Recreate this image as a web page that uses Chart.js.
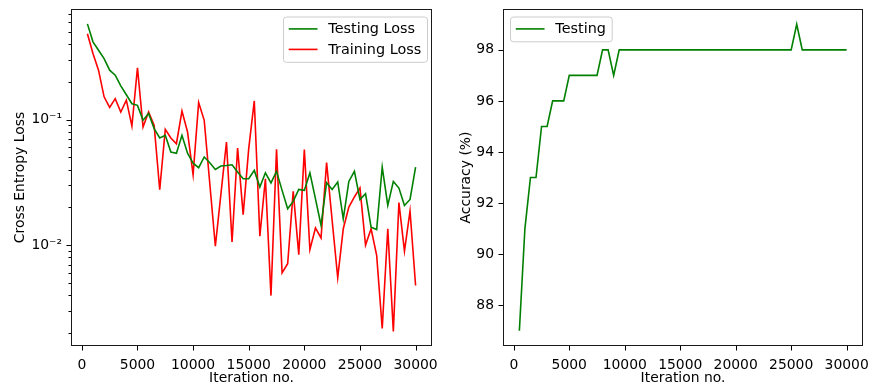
<!DOCTYPE html>
<html>
<head>
<meta charset="utf-8">
<script src="https://cdn.jsdelivr.net/npm/chart.js@4.4.0/dist/chart.umd.min.js"></script>
<style>
  body { margin: 0; background: #fff; }
  #wrap { position: relative; width: 870px; height: 385px; }
  .panel { position: absolute; top: 0; height: 385px; }
  #left { left: 0; width: 440px; }
  #right { left: 440px; width: 430px; }
</style>
</head>
<body>
<div id="wrap">
  <div class="panel" id="left"><canvas id="loss-chart"></canvas></div>
  <div class="panel" id="right"><canvas id="acc-chart"></canvas></div>
</div>
<script>
// Evaluation every 500 iterations
const iterations = [
  500, 1000, 1500, 2000, 2500, 3000, 3500, 4000, 4500, 5000,
  5500, 6000, 6500, 7000, 7500, 8000, 8500, 9000, 9500, 10000,
  10500, 11000, 11500, 12000, 12500, 13000, 13500, 14000, 14500, 15000,
  15500, 16000, 16500, 17000, 17500, 18000, 18500, 19000, 19500, 20000,
  20500, 21000, 21500, 22000, 22500, 23000, 23500, 24000, 24500, 25000,
  25500, 26000, 26500, 27000, 27500, 28000, 28500, 29000, 29500, 30000
];

const testLoss = [
  0.58, 0.417, 0.357, 0.307, 0.248, 0.226, 0.186, 0.158, 0.134, 0.13,
  0.099, 0.112, 0.0848, 0.0715, 0.075, 0.0552, 0.054, 0.075, 0.054, 0.045,
  0.0414, 0.0504, 0.0454, 0.0401, 0.0427, 0.0431, 0.0437, 0.0382, 0.0338, 0.0338,
  0.0394, 0.029, 0.0377, 0.0313, 0.0387, 0.0273, 0.0195, 0.0223, 0.0278, 0.0273,
  0.0377, 0.0234, 0.0144, 0.0314, 0.0278, 0.0319, 0.0162, 0.0322, 0.0387, 0.0231,
  0.0257, 0.0139, 0.0133, 0.0418, 0.0207, 0.0322, 0.0285, 0.0207, 0.0231, 0.0418
];

const trainLoss = [
  0.483, 0.337, 0.248, 0.152, 0.125, 0.147, 0.115, 0.143, 0.089, 0.259,
  0.0874, 0.115, 0.09, 0.0276, 0.0837, 0.0715, 0.0643, 0.117, 0.0798, 0.0364,
  0.137, 0.0988, 0.031, 0.0098, 0.0255, 0.0664, 0.0106, 0.0594, 0.0175, 0.0587,
  0.141, 0.0118, 0.0338, 0.00396, 0.058, 0.006, 0.0071, 0.0268, 0.0084, 0.0577,
  0.0092, 0.0137, 0.0114, 0.0454, 0.0157, 0.0055, 0.0135, 0.0201, 0.0242, 0.0286,
  0.01, 0.0135, 0.0083, 0.00217, 0.0135, 0.00205, 0.0218, 0.00895, 0.0187, 0.00476
];

const testAccuracy = [
  87, 91, 93, 93, 95, 95, 96, 96, 96, 97,
  97, 97, 97, 97, 97, 98, 98, 97, 98, 98,
  98, 98, 98, 98, 98, 98, 98, 98, 98, 98,
  98, 98, 98, 98, 98, 98, 98, 98, 98, 98,
  98, 98, 98, 98, 98, 98, 98, 98, 98, 98,
  99, 98, 98, 98, 98, 98, 98, 98, 98, 98
];

const iterTicks = [0, 5000, 10000, 15000, 20000, 25000, 30000];
const lossTicks = [0.01, 0.1];
const lossTickLabels = ['10\u207B\u00B2', '10\u207B\u00B9'];
const accTicks = [88, 90, 92, 94, 96, 98];

const FONT = 'DejaVu Sans';
const FS = 13.9;
const LEGEND_FS = 14.4;
Chart.defaults.font.family = FONT;
Chart.defaults.font.size = FS;
Chart.defaults.color = '#000';

const toPoints = ys => iterations.map((x, i) => ({ x, y: ys[i] }));

// minor tick positions for the log axis (2..9 in each decade)
function logMinorTicks(min, max) {
  const out = [];
  for (let e = -4; e <= 1; e++) {
    for (let m = 2; m <= 9; m++) {
      const v = m * Math.pow(10, e);
      if (v > min && v < max) out.push(v);
    }
  }
  return out;
}

// scales should not push the plot area around for label overhang
function noOverhang(s) {
  s.paddingTop = 0;
  s.paddingBottom = 0;
  s.paddingLeft = 0;
  s.paddingRight = 0;
}

// box frame + outward tick marks
const axisDecor = {
  id: 'axisDecor',
  afterDraw(chart, args, opts) {
    const { ctx, chartArea: a, scales } = chart;
    const L = Math.round(a.left) + 0.5, R = Math.round(a.right) - 0.5;
    const T = Math.round(a.top) + 0.5, B = Math.round(a.bottom) - 0.5;
    ctx.save();
    ctx.strokeStyle = '#000';
    ctx.lineWidth = 1;
    ctx.beginPath();
    scales.x.ticks.forEach(t => {
      const px = Math.round(scales.x.getPixelForValue(t.value)) + 0.5;
      ctx.moveTo(px, B); ctx.lineTo(px, B + 5);
    });
    scales.y.ticks.forEach(t => {
      const py = Math.round(scales.y.getPixelForValue(t.value)) + 0.5;
      ctx.moveTo(L, py); ctx.lineTo(L - 5, py);
    });
    (opts.minorY || []).forEach(v => {
      const py = Math.round(scales.y.getPixelForValue(v)) + 0.5;
      ctx.moveTo(L, py); ctx.lineTo(L - 3, py);
    });
    ctx.stroke();
    ctx.strokeStyle = '#1a1a1a';
    ctx.strokeRect(L, T, R - L, B - T);
    ctx.restore();
  }
};

// framed legend inside the plot area
const boxLegend = {
  id: 'boxLegend',
  afterDraw(chart, args, opts) {
    const { ctx, chartArea: a } = chart;
    const sets = chart.data.datasets;
    const f = LEGEND_FS;
    ctx.save();
    ctx.font = f + 'px "' + FONT + '"';
    const pad = 0.4 * f, handle = 2 * f, gap = 0.75 * f, spacing = 0.5 * f, rowH = 13.3;
    const textW = Math.max(...sets.map(d => ctx.measureText(d.label).width));
    const w = pad + handle + gap + textW + pad;
    const h = pad * 2 + rowH * sets.length + spacing * (sets.length - 1);
    const x = opts.align === 'left' ? a.left + 7 : a.right - 5 - w;
    const y = a.top + 7.5;
    ctx.beginPath();
    ctx.roundRect(x + 0.5, y + 0.5, w, h, 3);
    ctx.fillStyle = 'rgba(255,255,255,0.8)';
    ctx.fill();
    ctx.strokeStyle = '#cccccc';
    ctx.lineWidth = 1;
    ctx.stroke();
    sets.forEach((d, i) => {
      const cy = y + pad + rowH / 2 + i * (rowH + spacing);
      ctx.beginPath();
      ctx.moveTo(x + pad, cy);
      ctx.lineTo(x + pad + handle, cy);
      ctx.strokeStyle = d.borderColor;
      ctx.lineWidth = d.borderWidth;
      ctx.stroke();
      ctx.fillStyle = '#000';
      ctx.textBaseline = 'middle';
      ctx.fillText(d.label, x + pad + handle + gap, cy + 0.5);
    });
    ctx.restore();
  }
};

const lossMin = 0.00157, lossMax = 0.762;

function xAxis() {
  return {
    type: 'linear',
    min: -975,
    max: 31475,
    grid: { display: false, drawTicks: false },
    border: { display: false },
    afterBuildTicks: s => { s.ticks = iterTicks.map(v => ({ value: v })); },
    afterFit: s => { s.height = 39; noOverhang(s); },
    ticks: { padding: 11, autoSkip: false, maxRotation: 0, callback: v => String(v) },
    title: {
      display: true,
      text: 'Iteration no.',
      font: { lineHeight: 1.0 },
      padding: { top: 0, bottom: 0 }
    }
  };
}

new Chart(document.getElementById('loss-chart'), {
  type: 'line',
  data: {
    datasets: [
      { label: 'Testing Loss', data: toPoints(testLoss), borderColor: '#008000', borderWidth: 1.6 },
      { label: 'Training Loss', data: toPoints(trainLoss), borderColor: '#ff0000', borderWidth: 1.6 }
    ]
  },
  options: {
    responsive: true,
    maintainAspectRatio: false,
    animation: false,
    layout: { padding: { top: 9, right: 8, left: 0, bottom: 0 } },
    elements: { point: { radius: 0 }, line: { tension: 0 } },
    plugins: {
      legend: { display: false },
      tooltip: { enabled: false },
      axisDecor: { minorY: logMinorTicks(lossMin, lossMax) },
      boxLegend: { align: 'right' }
    },
    scales: {
      x: xAxis(),
      y: {
        type: 'logarithmic',
        min: lossMin,
        max: lossMax,
        grid: { display: false, drawTicks: false },
        border: { display: false },
        afterBuildTicks: s => { s.ticks = lossTicks.map(v => ({ value: v })); },
        afterFit: s => { s.width = 71; noOverhang(s); },
        ticks: {
          padding: 9,
          autoSkip: false,
          callback: v => lossTickLabels[lossTicks.indexOf(v)]
        },
        title: { display: true, text: 'Cross Entropy Loss', padding: { top: 12, bottom: 0 } }
      }
    }
  },
  plugins: [axisDecor, boxLegend]
});

new Chart(document.getElementById('acc-chart'), {
  type: 'line',
  data: {
    datasets: [
      { label: 'Testing', data: toPoints(testAccuracy), borderColor: '#008000', borderWidth: 1.6 }
    ]
  },
  options: {
    responsive: true,
    maintainAspectRatio: false,
    animation: false,
    layout: { padding: { top: 9, right: 7, left: 0, bottom: 0 } },
    elements: { point: { radius: 0 }, line: { tension: 0 } },
    plugins: {
      legend: { display: false },
      tooltip: { enabled: false },
      axisDecor: {},
      boxLegend: { align: 'left' }
    },
    scales: {
      x: xAxis(),
      y: {
        type: 'linear',
        min: 86.4,
        max: 99.6,
        grid: { display: false, drawTicks: false },
        border: { display: false },
        afterBuildTicks: s => { s.ticks = accTicks.map(v => ({ value: v })); },
        afterFit: s => { s.width = 63; noOverhang(s); },
        ticks: { padding: 9, autoSkip: false },
        title: { display: true, text: 'Accuracy (%)', padding: { top: 18, bottom: 0 } }
      }
    }
  },
  plugins: [axisDecor, boxLegend]
});
</script>
</body>
</html>
